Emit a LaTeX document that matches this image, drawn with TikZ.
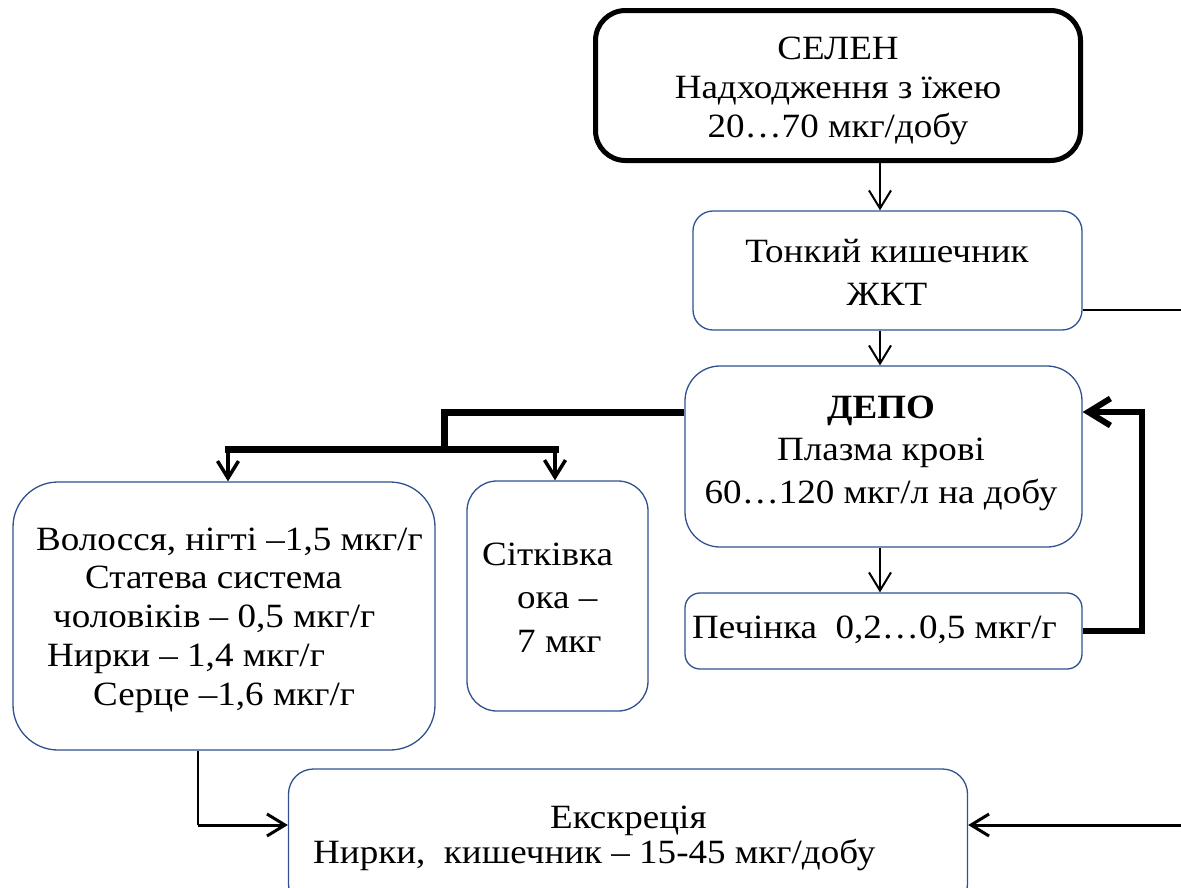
\documentclass[tikz,border=0pt]{standalone}
\usepackage{fontspec}
\setmainfont{Liberation Serif}[FakeStretch=1.09]
\usetikzlibrary{arrows.meta}
\definecolor{boxblue}{RGB}{47,82,143}
\begin{document}
\begin{tikzpicture}[x=1pt,y=-1pt,
  box/.style={draw=boxblue, line width=1.3pt, rectangle, inner sep=0pt},
  txt/.style={inner sep=0pt, align=center},
  ln/.style={line width=2pt},
  arr/.style={line width=2pt, -{Straight Barb[length=18pt,width=22pt]}},
  brline/.style={line width=7pt, line join=miter},
  brarr/.style={line width=3.5pt, -{Straight Barb[length=17pt,width=21pt]}},
  looparr/.style={line width=6pt, line join=miter, -{Straight Barb[length=22pt,width=27pt]}}
]
\useasboundingbox (0,0) rectangle (1181,887);

% boxes
\node[box, draw=black, line width=5pt, rounded corners=30pt,
      minimum width=485pt, minimum height=150pt] (sel) at (838,85.5) {};
\node[box, rounded corners=20pt, minimum width=389pt, minimum height=119pt] (ton) at (887.5,270.5) {};
\node[box, rounded corners=35pt, minimum width=397pt, minimum height=181pt] (dep) at (883.5,456.5) {};
\node[box, rounded corners=15pt, minimum width=397pt, minimum height=76pt] (liv) at (883.5,631) {};
\node[box, rounded corners=45pt, minimum width=422pt, minimum height=268pt] (hair) at (224,616) {};
\node[box, rounded corners=30pt, minimum width=181pt, minimum height=230pt] (eye) at (557.5,596) {};
\node[box, rounded corners=25pt, minimum width=679pt, minimum height=140pt] (exc) at (628,839) {};

% texts (anchored at the baseline of the last line)
\node[txt, anchor=base, font=\fontsize{34}{39}\selectfont] (selT) at (838,137)
  {СЕЛЕН\\Надходження з їжею\\20…70 мкг/добу};
\node[txt, anchor=base, font=\fontsize{34}{43}\selectfont] (tonT) at (887,305)
  {Тонкий кишечник\\ЖКТ};
\node[txt, anchor=base, font=\fontsize{34}{42.5}\selectfont] (depT) at (881,503)
  {\textbf{ДЕПО}\\Плазма крові\\60…120 мкг/л на добу};
\node[txt, anchor=base west, font=\fontsize{34}{39}\selectfont] (livT) at (692,638)
  {Печінка\ \ 0,2…0,5 мкг/г};
\node[txt, anchor=base west, align=left, font=\fontsize{34}{38.75}\selectfont] (hairT) at (36,705)
  {Волосся, нігті –1,5 мкг/г\\
   \hspace*{49pt}Статева система\\
   \hspace*{17pt}чоловіків – 0,5 мкг/г\\
   \hspace*{11pt}Нирки – 1,4 мкг/г\\
   \hspace*{57pt}Серце –1,6 мкг/г};
\node[txt, anchor=base west, align=left, font=\fontsize{34}{43.5}\selectfont] (eyeT) at (482,652)
  {Сітківка\\ \hspace*{35pt}ока –\\ \hspace*{35pt}7 мкг};
\node[txt, anchor=base west, align=left, font=\fontsize{34}{35}\selectfont] (excT) at (313,863)
  {\hspace*{237pt}Екскреція\\Нирки,\ \ кишечник – 15-45 мкг/добу};

% helper coordinates
\coordinate (ax) at (880,0);
\coordinate (edgeT) at (1181,310);
\coordinate (brY) at (0,412);
\coordinate (fork) at (444,449);
\coordinate (brL) at (228,449);
\coordinate (brR) at (555,449);
\coordinate (loopc) at (1142,412);
\coordinate (dropB) at (198,825);
\coordinate (edgeB) at (1181,825);

% main chain
\draw[arr] (sel.south -| ax) -- (ton.north -| ax);
\draw[arr] (ton.south -| ax) -- (dep.north -| ax);
\draw[arr] (dep.south -| ax) -- (liv.north -| ax);
\draw[ln] (ton.east |- edgeT) -- (edgeT);

% distribution to tissues
\draw[brline] (dep.west |- brY) -| (fork);
\draw[brline, line cap=rect] (brL) -- (brR);
\draw[brarr] (brL) -- (brL |- hair.north);
\draw[brarr] (brR) -- (brR |- eye.north);

% liver back to depot
\draw[looparr] (liv.east) -| (loopc) -- (dep.east |- loopc);

% excretion
\draw[ln] (hair.south -| dropB) -- (dropB);
\draw[arr, line width=3pt] (dropB) -- (exc.west |- dropB);
\draw[arr, line width=3pt] (edgeB) -- (exc.east |- edgeB);
\end{tikzpicture}
\end{document}
